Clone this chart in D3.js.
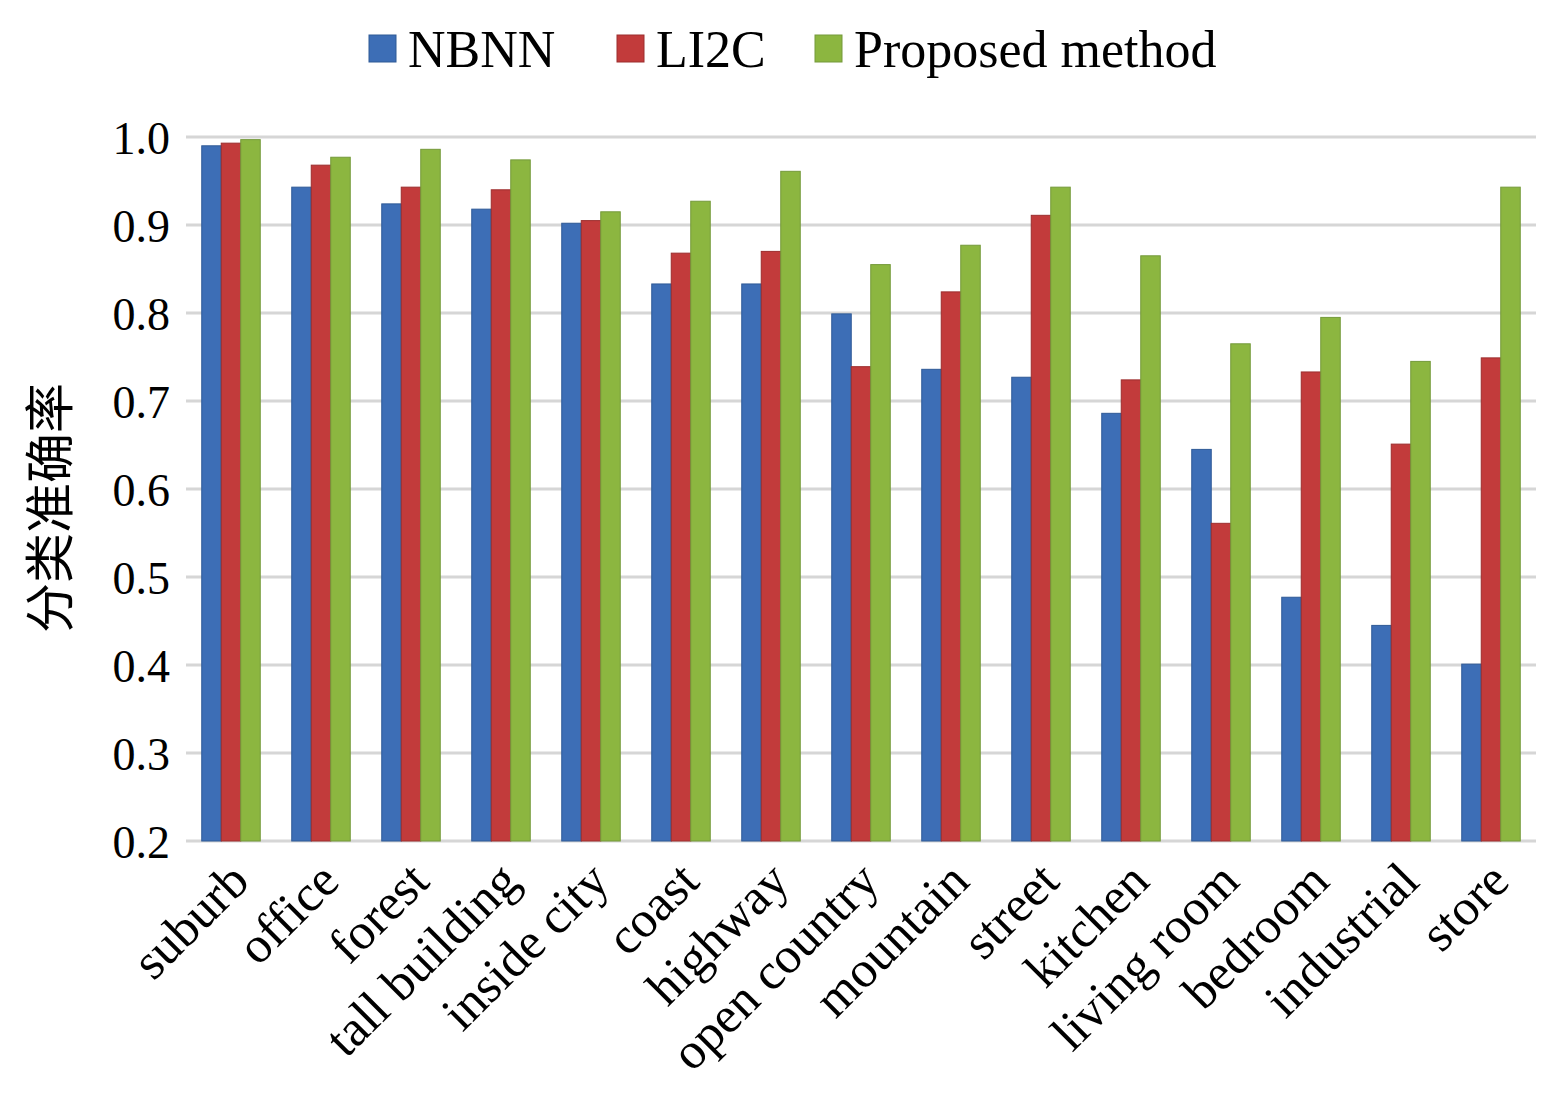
<!DOCTYPE html>
<html>
<head>
<meta charset="utf-8">
<script src="https://cdn.jsdelivr.net/npm/d3@7"></script>
<style>
  body { margin: 0; background: #fff; }
  text { font-family: "Liberation Serif", "DejaVu Serif", serif; fill: #000; }
</style>
</head>
<body>
<script>
const w = 1560;
const h = 1094;

// data
const categories = ["suburb", "office", "forest", "tall building", "inside city", "coast", "highway",
  "open country", "mountain", "street", "kitchen", "living room", "bedroom", "industrial", "store"];
const seriesNames = ["NBNN", "LI2C", "Proposed method"];
const nbnn     = [0.990, 0.943, 0.924, 0.918, 0.902, 0.833, 0.833, 0.799, 0.736, 0.727, 0.686, 0.645, 0.477, 0.445, 0.401];
const li2c     = [0.993, 0.968, 0.943, 0.940, 0.905, 0.868, 0.870, 0.739, 0.824, 0.911, 0.724, 0.561, 0.733, 0.651, 0.749];
const proposed = [0.997, 0.977, 0.986, 0.974, 0.915, 0.927, 0.961, 0.855, 0.877, 0.943, 0.865, 0.765, 0.795, 0.745, 0.943];
const yTicks = [0.2, 0.3, 0.4, 0.5, 0.6, 0.7, 0.8, 0.9, 1.0];
const yLabel = "分类准确率";

const colors = ["#3d6eb6", "#c23b3b", "#8cb640"];
const strokes = ["#2f5a96", "#9c2e2e", "#74993a"];
const values = [nbnn, li2c, proposed];

const svg = d3.select("body").append("svg").attr("width", w).attr("height", h);

const xScale = d3.scaleBand()
    .domain(categories)
    .range([186, 1536])
    .paddingInner(0.35)
    .paddingOuter(0.175);

const xSub = d3.scaleBand()
    .domain(seriesNames)
    .range([0, xScale.bandwidth()]);

const yScale = d3.scaleLinear()
    .domain([0.2, 1.0])
    .range([841, 137]);

// gridlines
svg.append("g")
    .selectAll("line")
    .data(yTicks)
    .enter()
    .append("line")
    .attr("x1", 186)
    .attr("x2", 1536)
    .attr("y1", d => yScale(d))
    .attr("y2", d => yScale(d))
    .attr("stroke", "#d6d6d6")
    .attr("stroke-width", 3);

// bars
seriesNames.forEach((name, s) => {
    svg.append("g")
        .selectAll("rect")
        .data(values[s])
        .enter()
        .append("rect")
        .attr("x", (d, i) => xScale(categories[i]) + xSub(name))
        .attr("y", d => yScale(d))
        .attr("width", xSub.bandwidth())
        .attr("height", d => yScale(0.2) - yScale(d))
        .attr("fill", colors[s])
        .attr("stroke", strokes[s])
        .attr("stroke-width", 1);
});

// y axis
const yAxis = d3.axisLeft(yScale)
    .tickValues(yTicks)
    .tickFormat(d3.format(".1f"))
    .tickSize(0)
    .tickPadding(16);

svg.append("g")
    .attr("transform", "translate(186,0)")
    .call(yAxis)
    .call(g => g.select(".domain").remove())
    .selectAll("text")
    .style("font-family", "Liberation Serif, serif")
    .style("font-size", "46px")
    .attr("dy", "0.36em");

// x axis labels
const xAxis = d3.axisBottom(xScale).tickSize(0).tickPadding(0);

svg.append("g")
    .attr("transform", "translate(0,841)")
    .call(xAxis)
    .call(g => g.select(".domain").remove())
    .selectAll("text")
    .style("font-family", "Liberation Serif, serif")
    .style("font-size", "51px")
    .attr("text-anchor", "end")
    .attr("y", 0)
    .attr("dy", "0.35em")
    .attr("transform", "translate(8,30) rotate(-45)");

// y label
svg.append("text")
    .attr("transform", "translate(50,508) rotate(-90)")
    .attr("text-anchor", "middle")
    .attr("dy", "0.35em")
    .style("font-family", "Noto Sans CJK SC")
    .style("font-size", "50px")
    .text(yLabel);

// legend
const legendX = [369, 617, 815];
const legend = svg.append("g");
seriesNames.forEach((name, s) => {
    legend.append("rect")
        .attr("x", legendX[s])
        .attr("y", 35)
        .attr("width", 27)
        .attr("height", 27)
        .attr("fill", colors[s])
        .attr("stroke", strokes[s]);
    legend.append("text")
        .attr("x", legendX[s] + 39)
        .attr("y", 67)
        .style("font-size", "52px")
        .text(name);
});
</script>
</body>
</html>
